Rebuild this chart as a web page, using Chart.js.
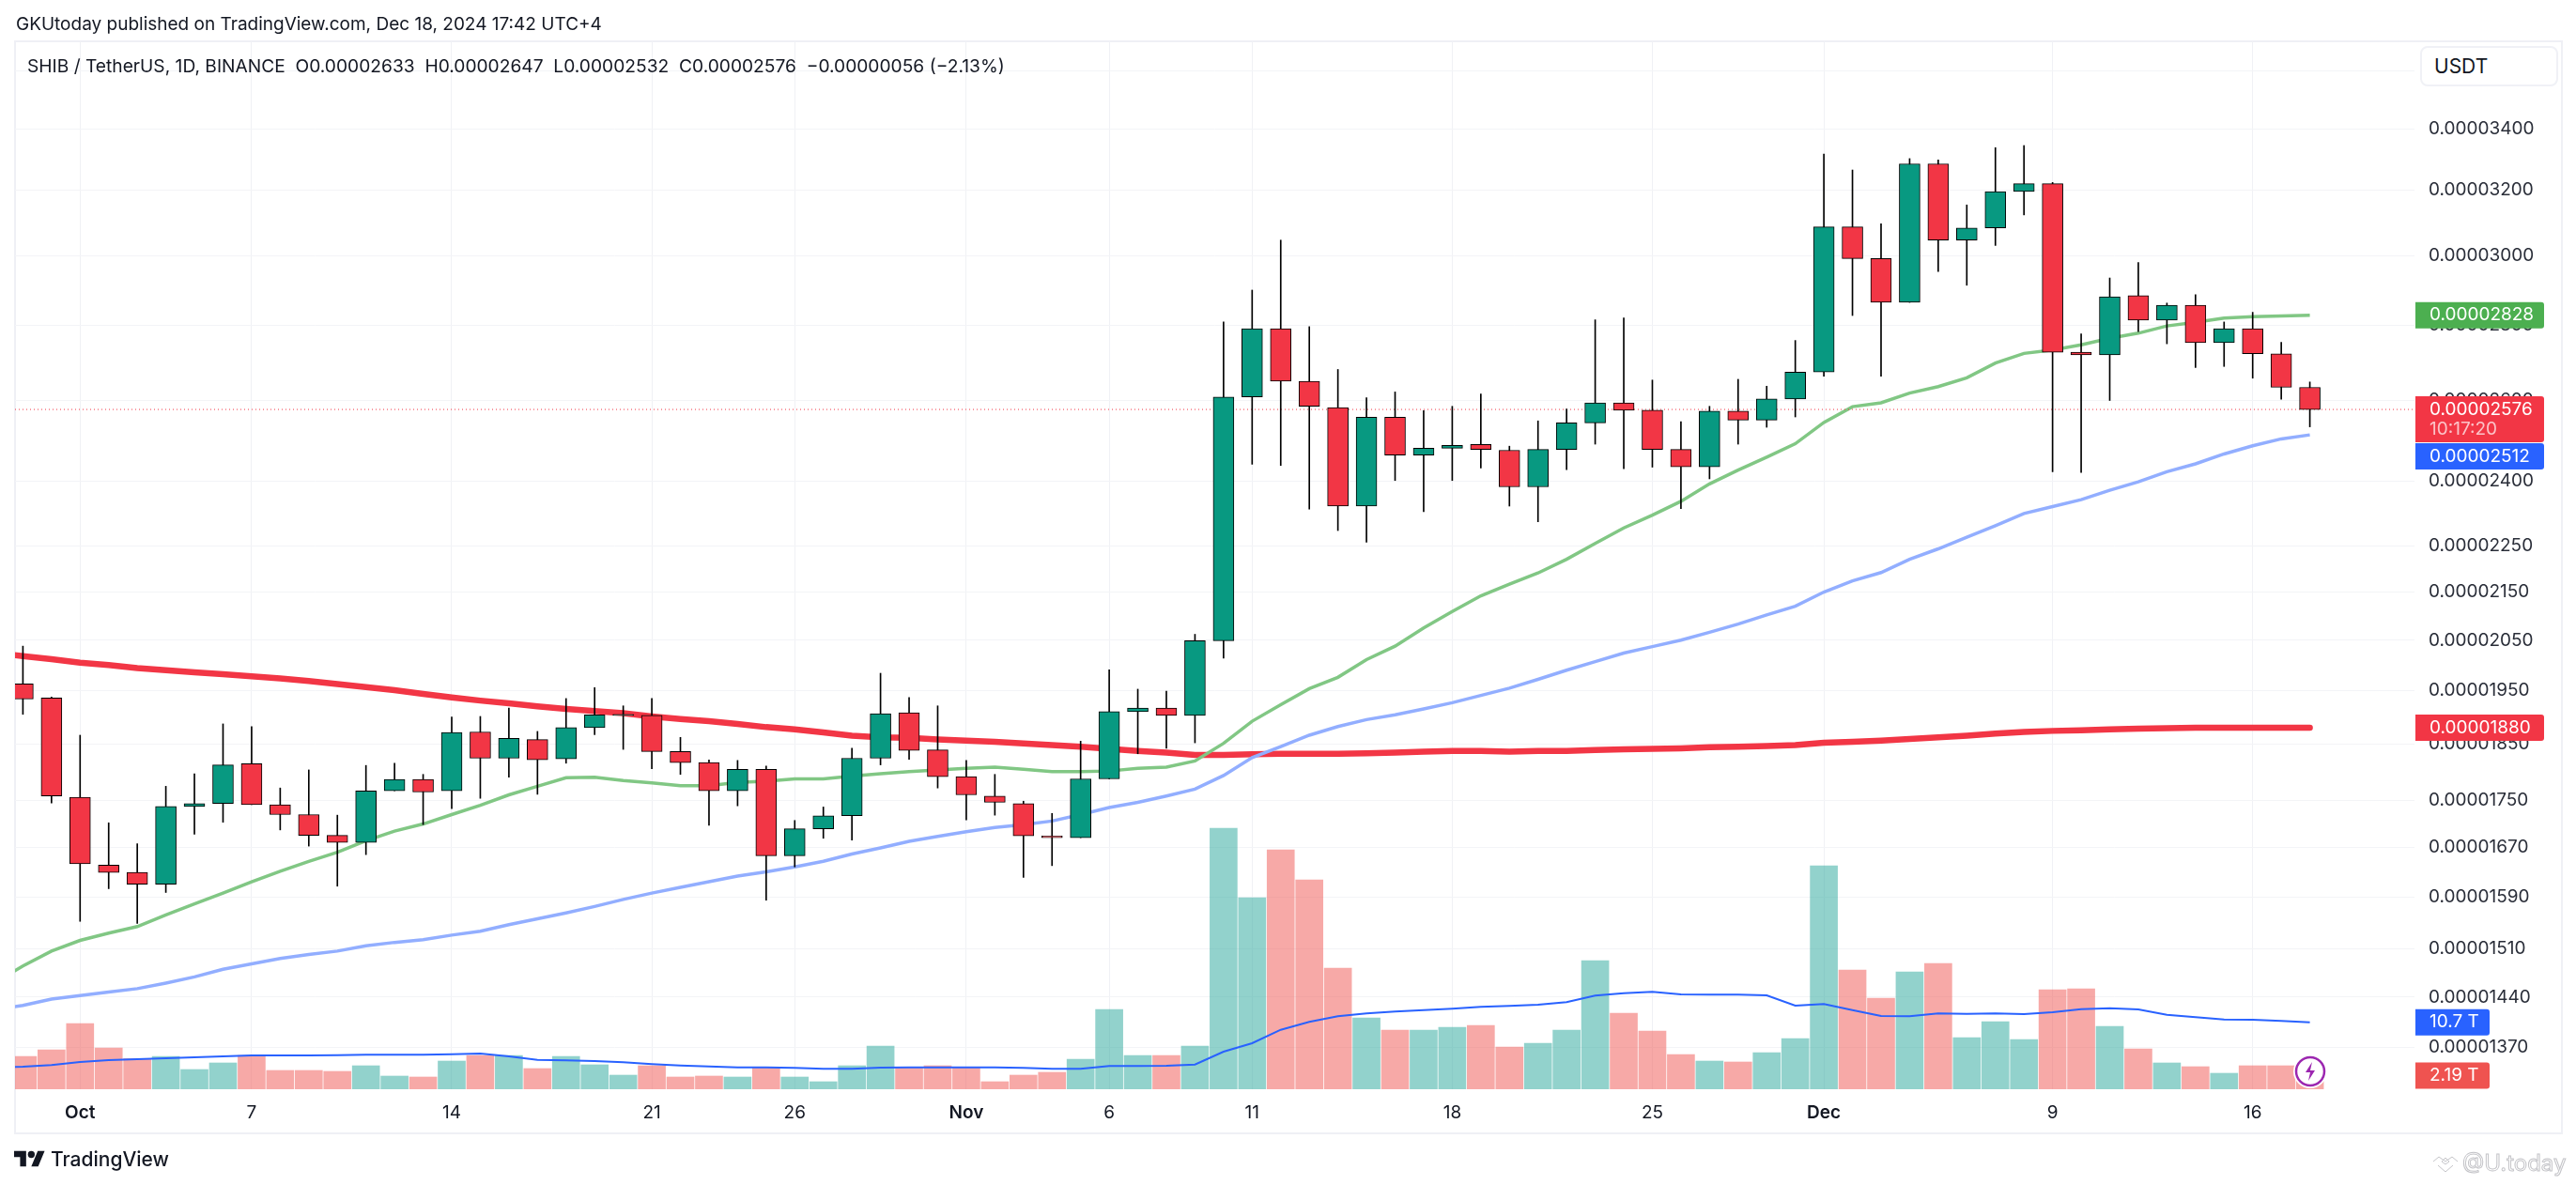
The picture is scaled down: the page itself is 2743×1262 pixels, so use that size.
<!DOCTYPE html>
<html>
<head>
<meta charset="utf-8">
<title>SHIB / TetherUS</title>
<script src="https://cdn.jsdelivr.net/npm/chart.js@4"></script>
<style>
    html, body { margin: 0; background: #fff; width: 2743px; height: 1262px; overflow: hidden; }
    body { font-family: Inter, "Noto Sans", sans-serif; color: #131722; position: relative; }
    canvas { position: absolute; left: 0; top: 0; }
    .frame { position: absolute; left: 15px; top: 43px; width: 2710px; height: 1161px; border: 2px solid #eff0f5; }
    .txt { position: absolute; white-space: pre; z-index: 2; }
    #published { left: 17px; top: 14px; font-size: 19px; }
    #legend { left: 29px; top: 58px; font-size: 19.2px; }
    #unit { left: 2577px; top: 49px; width: 143px; height: 39px; border: 2px solid #f0f1f6; border-radius: 8px; background: #fff; font-size: 21px; line-height: 39px; text-indent: 13px; }
    #tvText { left: 54px; top: 1222px; font-size: 21px; font-weight: 500; }
    #watermark { left: 2622px; top: 1224px; font-size: 24px; color: #fff; -webkit-text-stroke: 1px #c4c4c8; }
    svg { position: absolute; z-index: 2; }
</style>
</head>
<body>
<div class="frame"></div>
<canvas id="chart" width="2743" height="1262"></canvas>
<div class="txt" id="published">GKUtoday published on TradingView.com, Dec 18, 2024 17:42 UTC+4</div>
<div class="txt" id="legend">SHIB / TetherUS, 1D, BINANCE  O0.00002633  H0.00002647  L0.00002532  C0.00002576  −0.00000056 (−2.13%)</div>
<div class="txt" id="unit">USDT</div>
<svg style="left:15px;top:1222px" width="33" height="26" viewBox="0 0 36 28"><path fill="#131722" d="M14 22H7V11H0V4h14v18zM28 22h-8l7.5-18h8L28 22z"/><circle fill="#131722" cx="20" cy="8" r="4"/></svg>
<div class="txt" id="tvText">TradingView</div>
<svg style="left:2442px;top:1123px" width="36" height="36" viewBox="0 0 36 36"><circle cx="18" cy="18" r="18" fill="#fff"/><circle cx="18" cy="18" r="15" fill="#fff" stroke="#9c27b0" stroke-width="2.5"/><path d="M20 8l-7 11h5l-2 9 7-11h-5z" fill="#9c27b0"/></svg>
<svg style="left:2590px;top:1228px" width="28" height="24" viewBox="0 0 28 24" fill="none" stroke="#c4c4c8"><path d="M1 9l6-5 7 5 7-5 6 5M6 13l8 7 8-7M10 9l4-4 4 4-4 3z"/></svg>
<div class="txt" id="watermark">@U.today</div>

<script>
// 价格单位: 1e-8 USDT,成交量单位: T
const open = [
    1963, 1936, 1755, 1641, 1629, 1610, 1739, 1744, 1814, 1742,
    1725, 1690, 1678, 1766, 1786, 1766, 1872, 1824, 1858, 1823,
    1880, 1903, 1903, 1836, 1816, 1766, 1804, 1656, 1701, 1723,
    1824, 1908, 1839, 1791, 1757, 1744, 1689, 1686, 1787, 1910,
    1917, 1903, 2049, 2608, 2790, 2649, 2581, 2341, 2556, 2462,
    2479, 2488, 2474, 2386, 2476, 2542, 2593, 2574, 2476, 2434,
    2572, 2549, 2603, 2673, 3086, 2991, 2864, 3285, 3046, 3083,
    3196, 3221, 2726, 2719, 2883, 2814, 2856, 2752, 2790, 2722, 2633
];
const high = [
    2038, 1938, 1866, 1711, 1676, 1774, 1796, 1887, 1882, 1771,
    1803, 1724, 1811, 1815, 1795, 1900, 1901, 1917, 1873, 1935,
    1956, 1921, 1935, 1862, 1821, 1820, 1810, 1715, 1738, 1842,
    1984, 1937, 1921, 1820, 1795, 1748, 1727, 1855, 1991, 1953,
    1949, 2062, 2809, 2899, 3046, 2796, 2680, 2606, 2621, 2573,
    2584, 2616, 2484, 2547, 2577, 2815, 2820, 2652, 2545, 2584,
    2654, 2636, 2758, 3317, 3265, 3096, 3302, 3298, 3154, 3338,
    3345, 3225, 2776, 2934, 2979, 2862, 2886, 2809, 2836, 2753, 2647
];
const low = [
    1905, 1745, 1552, 1603, 1549, 1597, 1692, 1712, 1742, 1699,
    1672, 1607, 1658, 1766, 1708, 1735, 1753, 1790, 1760, 1815,
    1867, 1840, 1805, 1795, 1707, 1740, 1585, 1638, 1685, 1682,
    1812, 1822, 1771, 1716, 1724, 1621, 1640, 1686, 1787, 1832,
    1842, 1852, 2014, 2440, 2437, 2334, 2285, 2259, 2401, 2328,
    2401, 2431, 2341, 2305, 2427, 2489, 2429, 2433, 2335, 2405,
    2489, 2531, 2557, 2662, 2827, 2662, 2864, 2953, 2913, 3030,
    3123, 2422, 2420, 2599, 2782, 2749, 2685, 2688, 2657, 2602, 2532
];
const close = [
    1934, 1757, 1643, 1629, 1610, 1739, 1744, 1812, 1742, 1725,
    1690, 1678, 1766, 1786, 1764, 1871, 1824, 1860, 1821, 1880,
    1904, 1905, 1836, 1816, 1766, 1804, 1656, 1701, 1723, 1824,
    1906, 1838, 1791, 1759, 1746, 1689, 1686, 1787, 1910, 1917,
    1903, 2049, 2608, 2790, 2649, 2584, 2341, 2556, 2462, 2479,
    2486, 2476, 2386, 2476, 2542, 2593, 2574, 2476, 2434, 2572,
    2549, 2603, 2673, 3086, 2991, 2864, 3285, 3046, 3083, 3196,
    3221, 2726, 2719, 2880, 2814, 2856, 2752, 2790, 2722, 2633, 2576
];
const volume = [
    5.25, 6.3, 10.5, 6.6, 4.9, 5.25, 3.15, 4.2, 5.4, 3.0,
    3.0, 2.85, 3.75, 2.1, 1.95, 4.5, 5.4, 5.4, 3.3, 5.25,
    3.9, 2.25, 3.75, 1.95, 2.1, 1.95, 3.45, 1.95, 1.2, 3.75,
    6.9, 3.45, 3.75, 3.45, 1.2, 2.25, 2.7, 4.8, 12.75, 5.4,
    5.4, 6.9, 41.7, 30.6, 38.25, 33.45, 19.35, 11.4, 9.45, 9.45,
    9.9, 10.2, 6.75, 7.35, 9.45, 20.55, 12.15, 9.3, 5.55, 4.5,
    4.35, 5.85, 8.1, 35.7, 19.05, 14.55, 18.75, 20.1, 8.25, 10.8,
    7.95, 15.9, 16.05, 10.05, 6.45, 4.2, 3.6, 2.55, 3.75, 3.75, 2.19
];

// 均线比K线多一个点: 第一个点在图表左边界之外
const maRed = [
    2024, 2018, 2012, 2005, 2000, 1994, 1990, 1986, 1982, 1978, 1974,
    1969, 1963, 1957, 1951, 1944, 1937, 1931, 1926, 1920, 1915,
    1911, 1907, 1901, 1896, 1892, 1887, 1881, 1877, 1871, 1865,
    1862, 1861, 1858, 1856, 1854, 1851, 1848, 1845, 1841, 1837,
    1834, 1830, 1830, 1831, 1832, 1832, 1832, 1833, 1834, 1836,
    1837, 1837, 1836, 1837, 1837, 1839, 1840, 1841, 1842, 1844,
    1845, 1846, 1848, 1852, 1854, 1856, 1859, 1862, 1865, 1869,
    1872, 1874, 1875, 1877, 1878, 1879, 1880, 1880, 1880, 1880, 1880
];
const maGreen = [
    1460, 1485, 1507, 1523, 1534, 1544, 1562, 1579, 1596, 1614, 1631,
    1647, 1662, 1681, 1697, 1709, 1725, 1741, 1759, 1774, 1789,
    1790, 1784, 1780, 1775, 1775, 1781, 1783, 1787, 1787, 1792,
    1796, 1800, 1803, 1806, 1808, 1804, 1800, 1800, 1801, 1806,
    1808, 1819, 1851, 1892, 1923, 1954, 1976, 2011, 2038, 2075,
    2109, 2142, 2167, 2191, 2221, 2256, 2291, 2320, 2352, 2393,
    2426, 2457, 2490, 2543, 2583, 2593, 2618, 2635, 2658, 2697,
    2723, 2732, 2746, 2764, 2778, 2798, 2808, 2820, 2824, 2826, 2828
];
const maBlue = [
    1422, 1428, 1437, 1442, 1447, 1452, 1460, 1469, 1480, 1488, 1496,
    1502, 1507, 1515, 1520, 1524, 1531, 1537, 1547, 1556, 1565,
    1575, 1586, 1596, 1605, 1614, 1623, 1630, 1638, 1647, 1659,
    1669, 1680, 1688, 1696, 1703, 1708, 1714, 1725, 1737, 1746,
    1757, 1769, 1793, 1825, 1845, 1866, 1882, 1895, 1904, 1915,
    1927, 1941, 1955, 1972, 1990, 2007, 2024, 2037, 2050, 2066,
    2083, 2102, 2120, 2150, 2174, 2192, 2221, 2244, 2270, 2296,
    2324, 2340, 2356, 2378, 2398, 2422, 2441, 2465, 2485, 2502, 2512
];
const maVolume = [
    3.5, 3.6, 3.85, 4.35, 4.65, 4.8, 4.95, 5.1, 5.25, 5.4, 5.4,
    5.4, 5.45, 5.5, 5.5, 5.5, 5.6, 5.7, 5.25, 4.7, 4.6,
    4.5, 4.3, 4.0, 3.8, 3.65, 3.5, 3.5, 3.4, 3.25, 3.25,
    3.45, 3.5, 3.5, 3.5, 3.5, 3.4, 3.25, 3.25, 3.7, 3.7,
    3.75, 3.95, 6.0, 7.35, 9.5, 10.75, 11.65, 12.1, 12.4, 12.65,
    12.85, 13.15, 13.3, 13.5, 13.9, 14.95, 15.35, 15.55, 15.15, 15.1,
    15.1, 15.0, 13.35, 13.6, 12.65, 11.7, 11.65, 12.1, 12.05, 12.1,
    12.0, 12.3, 12.8, 12.95, 12.75, 11.9, 11.5, 11.15, 11.1, 10.9, 10.7
];

// 坐标轴刻度
const priceTicks = [3600, 3400, 3200, 3000, 2800, 2600, 2400, 2250, 2150, 2050, 1950, 1850, 1750, 1670, 1590, 1510, 1440, 1370];
const timeTickBars = [2, 8, 15, 22, 27, 33, 38, 43, 50, 57, 63, 71, 78];
const timeTickLabels = ['Oct', '7', '14', '21', '26', 'Nov', '6', '11', '18', '25', 'Dec', '9', '16'];
const monthLabels = ['Oct', 'Nov', 'Dec'];

// 右侧价格标签
const priceTagValues = [2828, 2576, 2512, 1880];
const priceTagTexts = ['0.00002828', '0.00002576', '0.00002512', '0.00001880'];
const priceTagColors = ['#4caf50', '#f23645', '#2962ff', '#f23645'];
const countdownText = '10:17:20';
const volumeTagValues = [10.7, 2.19];
const volumeTagTexts = ['10.7 T', '2.19 T'];
const volumeTagColors = ['#2962ff', '#ef5350'];

const FONT = 'Inter, "Noto Sans", sans-serif';
const GREEN = '#089981';
const RED = '#f23645';

const isUp = i => close[i] >= open[i];
const barPoints = (values) => values.map((v, i) => ({ x: i, y: v }));
const maPoints = (values) => values.map((v, i) => ({ x: i - 1, y: v }));

const xMin = -0.276;
const xMax = 83.66;

// 右侧标签插件
const tagPlugin = {
    id: 'tags',
    afterDatasetsDraw(chart) {
        const c = chart.ctx;
        const drawTag = (y, h, up, w, text, color) => {
            c.fillStyle = color;
            c.beginPath();
            c.roundRect(2572, y - up, w, h, [0, 3, 3, 0]);
            c.fill();
            c.fillStyle = '#fff';
            c.font = '19px ' + FONT;
            c.textAlign = 'left';
            c.textBaseline = 'middle';
            c.fillText(text, 2587, y);
        };
        const yPrice = chart.scales.y;
        const yVol = chart.scales.yVol;
        priceTagValues.forEach((v, i) => {
            const py = yPrice.getPixelForValue(v);
            const isLast = i === 1;
            // 蓝色标签被倒计时标签顶到下面
            const shift = i === 2 ? 23 : 0;
            drawTag(py + shift, isLast ? 49 : 28, 14, 137, priceTagTexts[i], priceTagColors[i]);
            if (isLast) {
                c.fillStyle = 'rgba(255, 255, 255, 0.7)';
                c.fillText(countdownText, 2587, py + 21);
            }
        });
        volumeTagValues.forEach((v, i) => {
            drawTag(yVol.getPixelForValue(v), 28, 14, 79, volumeTagTexts[i], volumeTagColors[i]);
        });
    }
};

new Chart(document.getElementById('chart'), {
    data: {
        datasets: [
            // 成交量
            {
                type: 'bar',
                yAxisID: 'yVol',
                data: barPoints(volume),
                backgroundColor: volume.map((v, i) => isUp(i) ? 'rgba(38, 166, 154, 0.5)' : 'rgba(239, 83, 80, 0.5)'),
                barThickness: 29,
                grouped: false,
                order: 9
            },
            // 成交量均线
            {
                type: 'line',
                yAxisID: 'yVol',
                data: maPoints(maVolume),
                borderColor: '#2962ff',
                borderWidth: 2,
                pointRadius: 0,
                tension: 0,
                order: 8
            },
            // 价格均线
            {
                type: 'line',
                yAxisID: 'y',
                data: maPoints(maRed),
                borderColor: RED,
                borderWidth: 6.5,
                borderCapStyle: 'round',
                pointRadius: 0,
                tension: 0,
                order: 7
            },
            {
                type: 'line',
                yAxisID: 'y',
                data: maPoints(maGreen),
                borderColor: '#81c784',
                borderWidth: 3.5,
                pointRadius: 0,
                tension: 0,
                order: 6
            },
            {
                type: 'line',
                yAxisID: 'y',
                data: maPoints(maBlue),
                borderColor: '#92aeff',
                borderWidth: 3.5,
                pointRadius: 0,
                tension: 0,
                order: 5
            },
            // 最新价虚线
            {
                type: 'line',
                yAxisID: 'y',
                data: [{ x: xMin, y: close[close.length - 1] }, { x: xMax, y: close[close.length - 1] }],
                borderColor: RED,
                borderWidth: 1,
                borderDash: [1, 3],
                pointRadius: 0,
                order: 4
            },
            // K线影线
            {
                type: 'bar',
                yAxisID: 'y',
                data: high.map((h, i) => ({ x: i, y: [low[i], h] })),
                backgroundColor: '#000',
                barThickness: 1,
                grouped: false,
                order: 2
            },
            // K线实体
            {
                type: 'bar',
                yAxisID: 'y',
                data: open.map((o, i) => ({ x: i, y: [o, close[i]] })),
                backgroundColor: open.map((o, i) => isUp(i) ? GREEN : RED),
                borderColor: '#000',
                borderWidth: 1,
                borderSkipped: false,
                barThickness: 22,
                grouped: false,
                order: 1
            }
        ]
    },
    options: {
        responsive: false,
        animation: false,
        devicePixelRatio: 1,
        layout: { padding: { left: 16, top: 44, right: 16, bottom: 0 } },
        plugins: {
            legend: { display: false },
            tooltip: { enabled: false }
        },
        scales: {
            x: {
                type: 'linear',
                min: xMin,
                max: xMax,
                offset: false,
                afterBuildTicks: (scale) => { scale.ticks = timeTickBars.map(v => ({ value: v })); },
                afterFit: (scale) => { scale.height = 102; },
                grid: { color: '#f0f1f5', drawTicks: false, offset: false },
                border: { display: false },
                ticks: {
                    autoSkip: false,
                    maxRotation: 0,
                    padding: 14,
                    color: '#131722',
                    font: (ctx) => ({
                        family: FONT,
                        size: 19,
                        weight: monthLabels.includes(timeTickLabels[timeTickBars.indexOf(ctx.tick && ctx.tick.value)]) ? '600' : '400'
                    }),
                    callback: (v) => timeTickLabels[timeTickBars.indexOf(v)]
                }
            },
            y: {
                type: 'logarithmic',
                position: 'right',
                min: 1314.4,
                max: 3708.5,
                afterBuildTicks: (scale) => { scale.ticks = priceTicks.map(v => ({ value: v })); },
                afterFit: (scale) => { scale.width = 156; },
                grid: { color: '#f3f4f7', drawTicks: false },
                border: { display: false },
                ticks: {
                    autoSkip: false,
                    padding: 15,
                    color: '#2a2e39',
                    font: { family: FONT, size: 19 },
                    callback: (v) => v === 3600 ? '' : (v / 1e8).toFixed(8)
                }
            },
            yVol: {
                type: 'linear',
                display: false,
                min: 0,
                max: 167.4
            }
        }
    },
    plugins: [tagPlugin]
});
</script>
</body>
</html>
